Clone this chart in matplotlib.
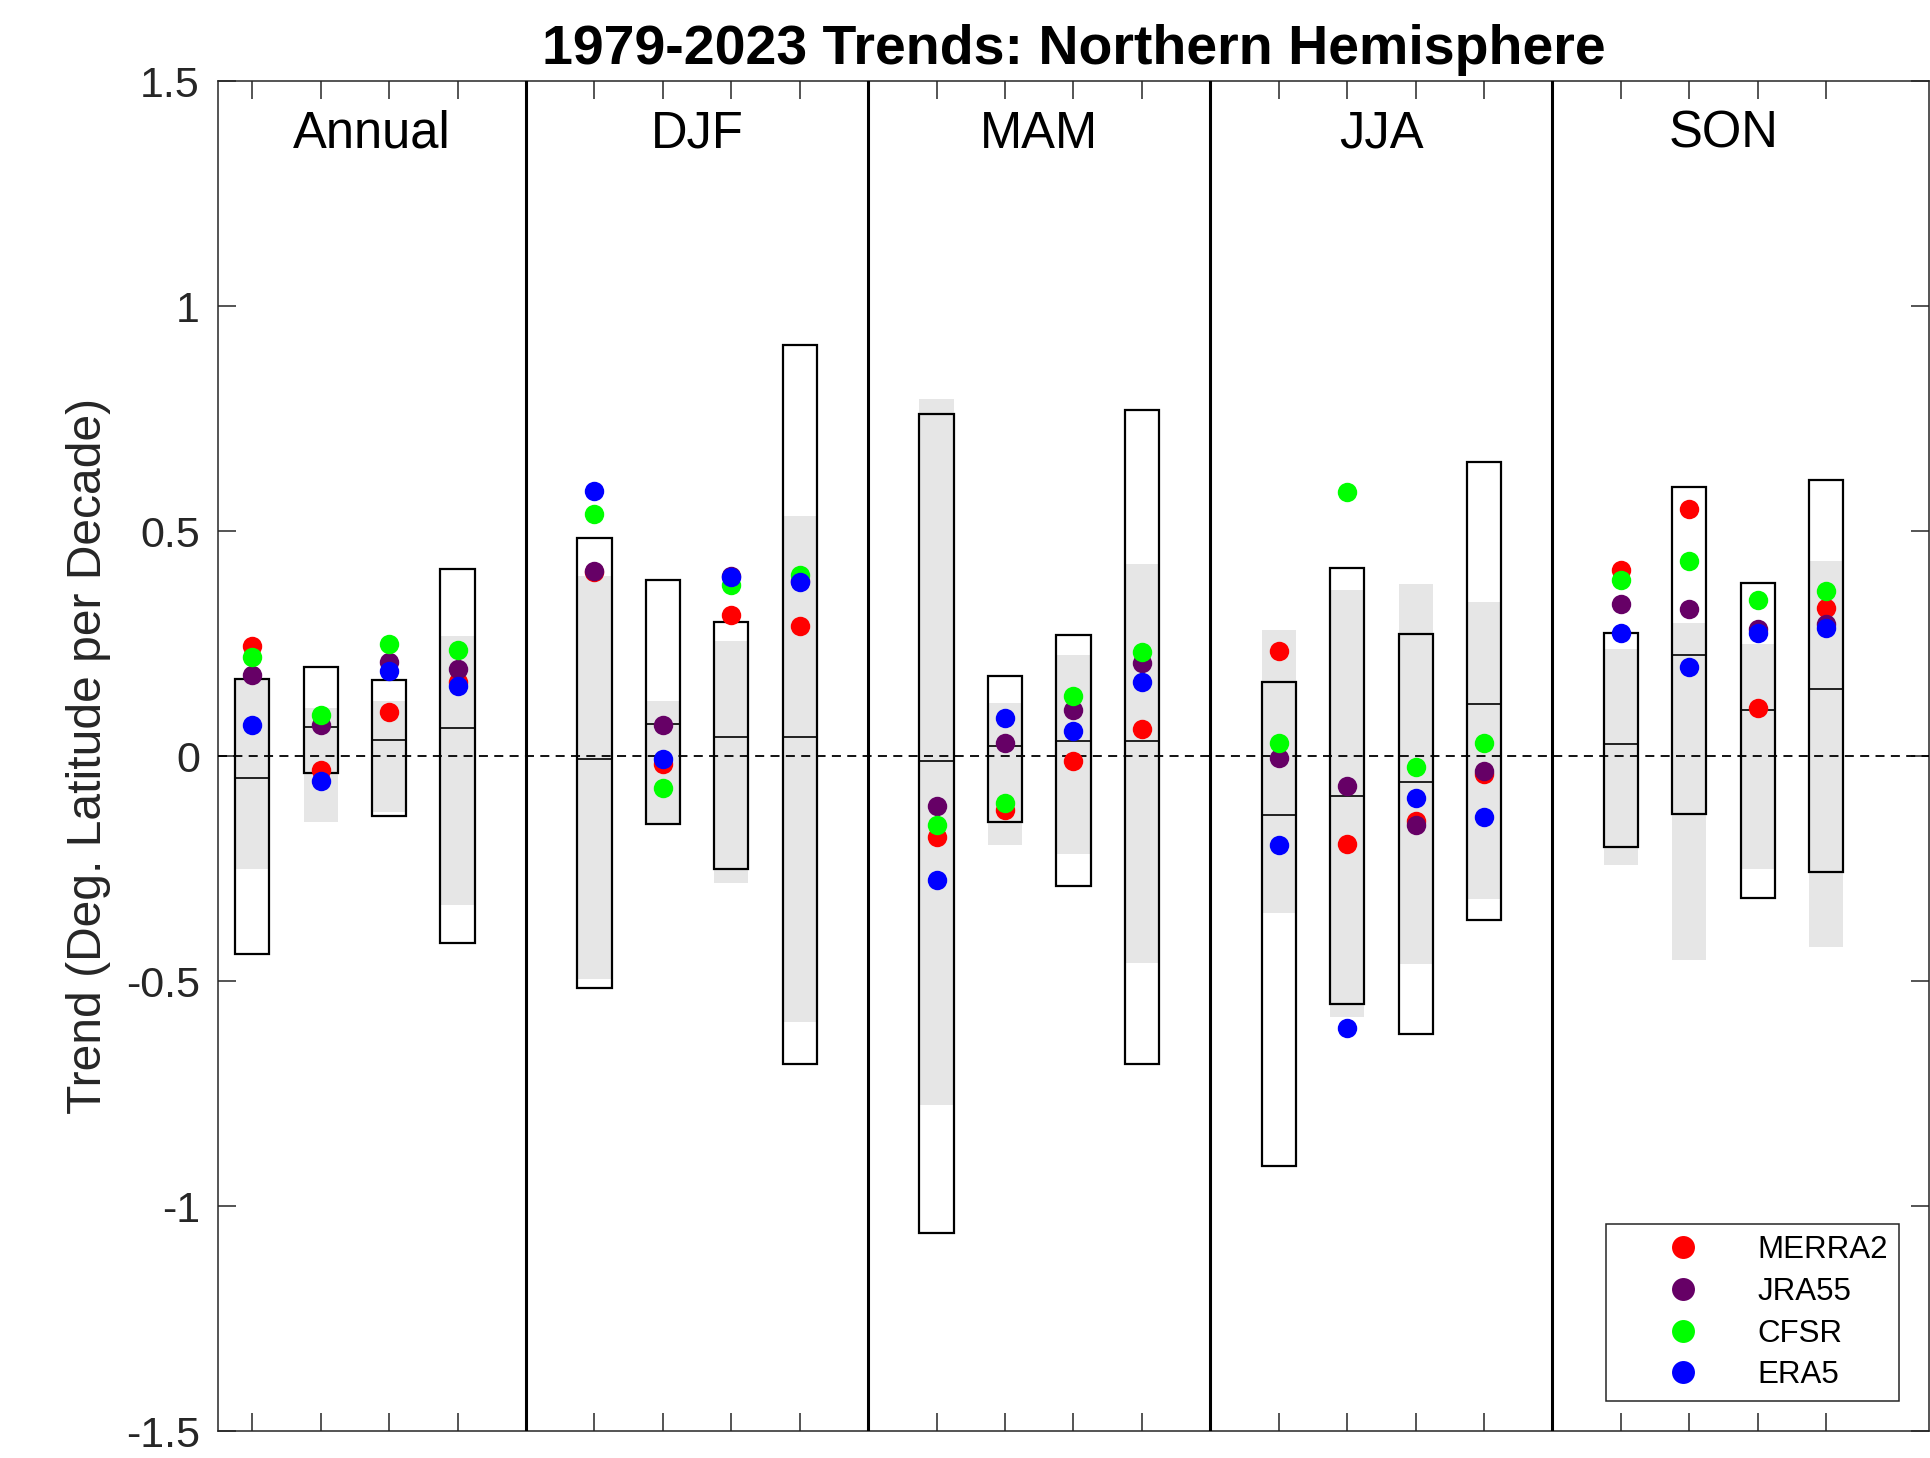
import numpy as np
import matplotlib
matplotlib.use("Agg")
import matplotlib.pyplot as plt

plt.rcParams['font.family'] = ['Liberation Sans', 'DejaVu Sans']

# Seasons and the four columns drawn inside each season panel
seasons = ['Annual', 'DJF', 'MAM', 'JJA', 'SON']
n_cols = 4

# Outlined boxes: upper edge, lower edge and centre line (deg. latitude / decade)
box_hi = [0.172, 0.198, 0.169, 0.415, 0.484, 0.392, 0.297, 0.914, 0.761, 0.178,
          0.268, 0.768, 0.165, 0.417, 0.271, 0.654, 0.274, 0.597, 0.384, 0.614]
box_lo = [-0.439, -0.037, -0.133, -0.416, -0.515, -0.152, -0.251, -0.685, -1.061, -0.146,
          -0.288, -0.684, -0.912, -0.552, -0.617, -0.365, -0.202, -0.129, -0.315, -0.258]
box_mid = [-0.048, 0.065, 0.036, 0.063, -0.007, 0.072, 0.043, 0.043, -0.010, 0.023,
           0.034, 0.034, -0.132, -0.089, -0.057, 0.115, 0.026, 0.225, 0.102, 0.148]

# Shaded grey ranges
band_hi = [0.168, 0.106, 0.122, 0.267, 0.401, 0.122, 0.256, 0.534, 0.794, 0.118,
           0.225, 0.427, 0.279, 0.370, 0.382, 0.343, 0.238, 0.295, 0.249, 0.434]
band_lo = [-0.251, -0.147, -0.124, -0.330, -0.495, -0.150, -0.283, -0.590, -0.776, -0.197,
           -0.217, -0.461, -0.349, -0.581, -0.463, -0.317, -0.243, -0.453, -0.250, -0.424]

# Reanalysis trends
merra2 = [0.245, -0.031, 0.097, 0.165, 0.408, -0.018, 0.313, 0.288, -0.181, -0.119,
          -0.012, 0.060, 0.233, -0.195, -0.145, -0.041, 0.413, 0.548, 0.107, 0.330]
jra55 = [0.181, 0.069, 0.208, 0.193, 0.412, 0.069, 0.400, 0.388, -0.112, 0.030,
         0.102, 0.207, -0.005, -0.066, -0.154, -0.034, 0.337, 0.326, 0.282, 0.293]
cfsr = [0.219, 0.091, 0.248, 0.236, 0.539, -0.071, 0.381, 0.403, -0.154, -0.105,
        0.134, 0.232, 0.029, 0.587, -0.025, 0.029, 0.391, 0.433, 0.346, 0.367]
era5 = [0.069, -0.055, 0.189, 0.156, 0.589, -0.006, 0.399, 0.386, -0.276, 0.085,
        0.056, 0.164, -0.198, -0.604, -0.093, -0.135, 0.274, 0.198, 0.274, 0.285]

reanalyses = [('MERRA2', merra2, '#ff0000'),
              ('JRA55', jra55, '#660066'),
              ('CFSR', cfsr, '#00ff00'),
              ('ERA5', era5, '#0000ff')]

y_ticks = [-1.5, -1, -0.5, 0, 0.5, 1, 1.5]
y_ticklabels = ['-1.5', '-1', '-0.5', '0', '0.5', '1', '1.5']

# x positions: four columns per season, one empty slot between seasons
step = n_cols + 1
pos = np.array([step * s + k + 1 for s in range(len(seasons)) for k in range(n_cols)], float)
separators = [step * (s + 1) for s in range(len(seasons) - 1)]
x_min = 0.5

fig = plt.figure(figsize=(19.31, 14.58), dpi=100)
ax = fig.add_axes([0.1129, 0.0185, 0.8860, 0.9259])

bw = 0.5
band_hi_a, band_lo_a = np.array(band_hi), np.array(band_lo)
box_hi_a, box_lo_a = np.array(box_hi), np.array(box_lo)

ax.bar(pos, band_hi_a - band_lo_a, bottom=band_lo_a, width=bw,
       color='#e6e6e6', edgecolor='none', zorder=1)
ax.bar(pos, box_hi_a - box_lo_a, bottom=box_lo_a, width=bw,
       fill=False, edgecolor='black', linewidth=1.6, zorder=2)
ax.hlines(box_mid, pos - bw / 2, pos + bw / 2, colors='black', linewidth=1.2, zorder=2)

ax.axhline(0, color='black', linestyle=(0, (5, 3.5)), linewidth=1.3, zorder=3)
for sx in separators:
    ax.axvline(sx, color='black', linewidth=2.2, zorder=3)

for name, vals, col in reanalyses:
    ax.plot(pos, vals, linestyle='none', marker='o', markersize=14,
            markeredgewidth=0, color=col, label=name, zorder=4)

# Season names centred in the visible part of each panel
for s, name in enumerate(seasons):
    left = max(step * s, x_min)
    right = step * (s + 1)
    ax.text((left + right) / 2, 1.352, name, ha='center', va='baseline',
            fontsize=36.5, color='black')

ax.set_xlim(x_min, len(seasons) * step + 0.5)
ax.set_ylim(-1.5, 1.5)
ax.set_xticks(pos)
ax.set_xticklabels([])
ax.set_yticks(y_ticks)
ax.set_yticklabels(y_ticklabels)
ax.tick_params(direction='in', length=13, width=1.1, colors='#262626',
               top=True, right=True, labelsize=31, pad=13)
for sp in ax.spines.values():
    sp.set_linewidth(1.1)
    sp.set_color('#262626')

ax.set_ylabel('Trend (Deg. Latitude per Decade)', fontsize=34.6, color='#262626', labelpad=11)
ax.set_title('1979-2023 Trends: Northern Hemisphere', fontsize=40, fontweight='bold', pad=12)

leg = ax.legend(loc='lower right', bbox_to_anchor=(0.9825, 0.022), borderaxespad=0,
                fontsize=22.5, markerscale=1.18, handlelength=4.2, handletextpad=0.28,
                labelspacing=0.37, borderpad=0.36, fancybox=False, framealpha=1)
leg.get_frame().set_edgecolor('#262626')
leg.get_frame().set_linewidth(1.1)

fig.savefig('out.png', dpi=100)
